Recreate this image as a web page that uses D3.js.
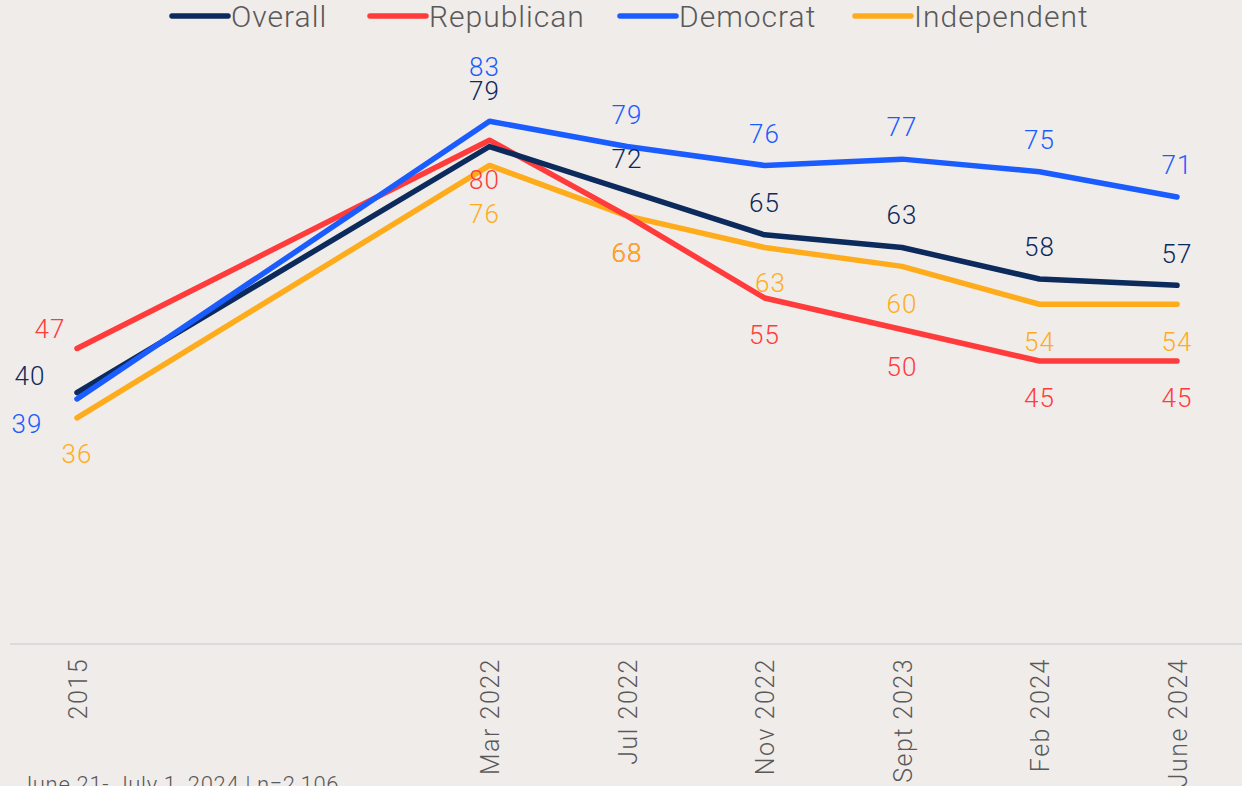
<!DOCTYPE html>
<html>
<head>
<meta charset="utf-8">
<script src="https://cdn.jsdelivr.net/npm/d3@7"></script>
<style>
  html, body { margin: 0; padding: 0; background: #f0ecea; }
  svg { display: block; }
</style>
</head>
<body>
<svg id="chart" width="1242" height="786"></svg>
<script>
// ---------- DATA ----------
const categories = ["2015", "Mar 2022", "Jul 2022", "Nov 2022", "Sept 2023", "Feb 2024", "June 2024"];
const overall    = [40, 79, 72, 65, 63, 58, 57];
const republican = [47, 80, 68, 55, 50, 45, 45];
const democrat   = [39, 83, 79, 76, 77, 75, 71];
const independent= [36, 76, 68, 63, 60, 54, 54];
const seriesNames = ["Overall", "Republican", "Democrat", "Independent"];
const footnote = "June 21- July 1, 2024 | n=2,106";

// ---------- LAYOUT / STYLE ----------
const W = 1242, H = 786;
const slot = [0, 3, 4, 5, 6, 7, 8];           // category slot positions (gap after 2015)
const colors = {
  "Overall": "#0c2a5b",
  "Republican": "#ff3b3b",
  "Democrat": "#1b5cff",
  "Independent": "#ffac1c"
};
// label offsets [dx, dy] per series per category
const labelOffsets = {
  "Overall":     [[-47,-17],[-5,-56],[0,-32],[0,-32],[0,-33],[0,-32],[0,-32]],
  "Republican":  [[-27,-20],[-5,39],[0,37],[0,37],[0,37],[0,37],[0,37]],
  "Democrat":    [[-50,25],[-5,-55],[0,-32],[0,-32],[0,-32],[0,-32],[0,-32]],
  "Independent": [[0,36],[-5,48],[0,37],[6,35],[0,37],[0,37],[0,37]]
};

const seriesData = {
  "Overall": overall,
  "Republican": republican,
  "Democrat": democrat,
  "Independent": independent
};

const FONT = "Roboto, 'Open Sans', sans-serif";
const svg = d3.select("#chart");
svg.append("rect").attr("width", W).attr("height", H).attr("fill", "#f0ecea");

const x = d3.scaleLinear().domain([0, 8]).range([77, 1177]);
const y = d3.scaleLinear().domain([0, 100]).range([645, 14]);

// axis baseline
svg.append("line")
  .attr("x1", 10).attr("x2", W)
  .attr("y1", 644).attr("y2", 644)
  .attr("stroke", "#dadada").attr("stroke-width", 2);

// x axis labels
const xAxis = d3.axisBottom(x)
  .tickValues(slot)
  .tickFormat(d => categories[slot.indexOf(d)])
  .tickSize(0);
const gx = svg.append("g").attr("transform", "translate(0,645)").call(xAxis);
gx.select(".domain").remove();
gx.selectAll("text")
  .attr("transform", "rotate(-90)")
  .attr("x", -13)
  .attr("y", 0)
  .attr("dy", "0.36em")
  .attr("text-anchor", "end")
  .attr("fill", "#595959")
  .style("font-family", FONT)
  .style("font-weight", 300)
  .style("font-size", "25px")
  .style("letter-spacing", "1.5px");

// lines
const line = d3.line()
  .x((d, i) => x(slot[i]))
  .y(d => y(d));

const drawOrder = ["Independent", "Republican", "Overall", "Democrat"];
drawOrder.forEach(name => {
  svg.append("path")
    .datum(seriesData[name])
    .attr("d", line)
    .attr("fill", "none")
    .attr("stroke", colors[name])
    .attr("stroke-width", 5.5)
    .attr("stroke-linejoin", "round")
    .attr("stroke-linecap", "round");
});

// labels
const labelOrder = ["Republican", "Independent", "Overall", "Democrat"];
labelOrder.forEach(name => {
  svg.append("g").selectAll("text")
    .data(seriesData[name])
    .join("text")
    .attr("x", (d, i) => x(slot[i]) + labelOffsets[name][i][0])
    .attr("y", (d, i) => y(d) + labelOffsets[name][i][1])
    .attr("dy", "0.36em")
    .attr("text-anchor", "middle")
    .attr("fill", colors[name])
    .style("font-family", FONT)
    .style("font-weight", 300)
    .style("font-size", "26px")
    .style("letter-spacing", "1px")
    .text(d => d);
});

// legend
const legendX = [172, 370, 620, 855];
const lg = svg.append("g");
seriesNames.forEach((name, i) => {
  lg.append("line")
    .attr("x1", legendX[i]).attr("x2", legendX[i] + 56)
    .attr("y1", 16).attr("y2", 16)
    .attr("stroke", colors[name])
    .attr("stroke-width", 5.5)
    .attr("stroke-linecap", "round");
  lg.append("text")
    .attr("x", legendX[i] + 59)
    .attr("y", 27)
    .attr("fill", "#595959")
    .style("font-family", FONT)
    .style("font-weight", 300)
    .style("font-size", "30px")
    .style("letter-spacing", "1px")
    .text(name);
});

// footnote
svg.append("text")
  .attr("x", 20).attr("y", 792)
  .attr("fill", "#595959")
  .style("font-family", FONT)
  .style("font-weight", 300)
  .style("font-size", "22px")
  .style("letter-spacing", "0.7px")
  .text(footnote);
</script>
</body>
</html>
